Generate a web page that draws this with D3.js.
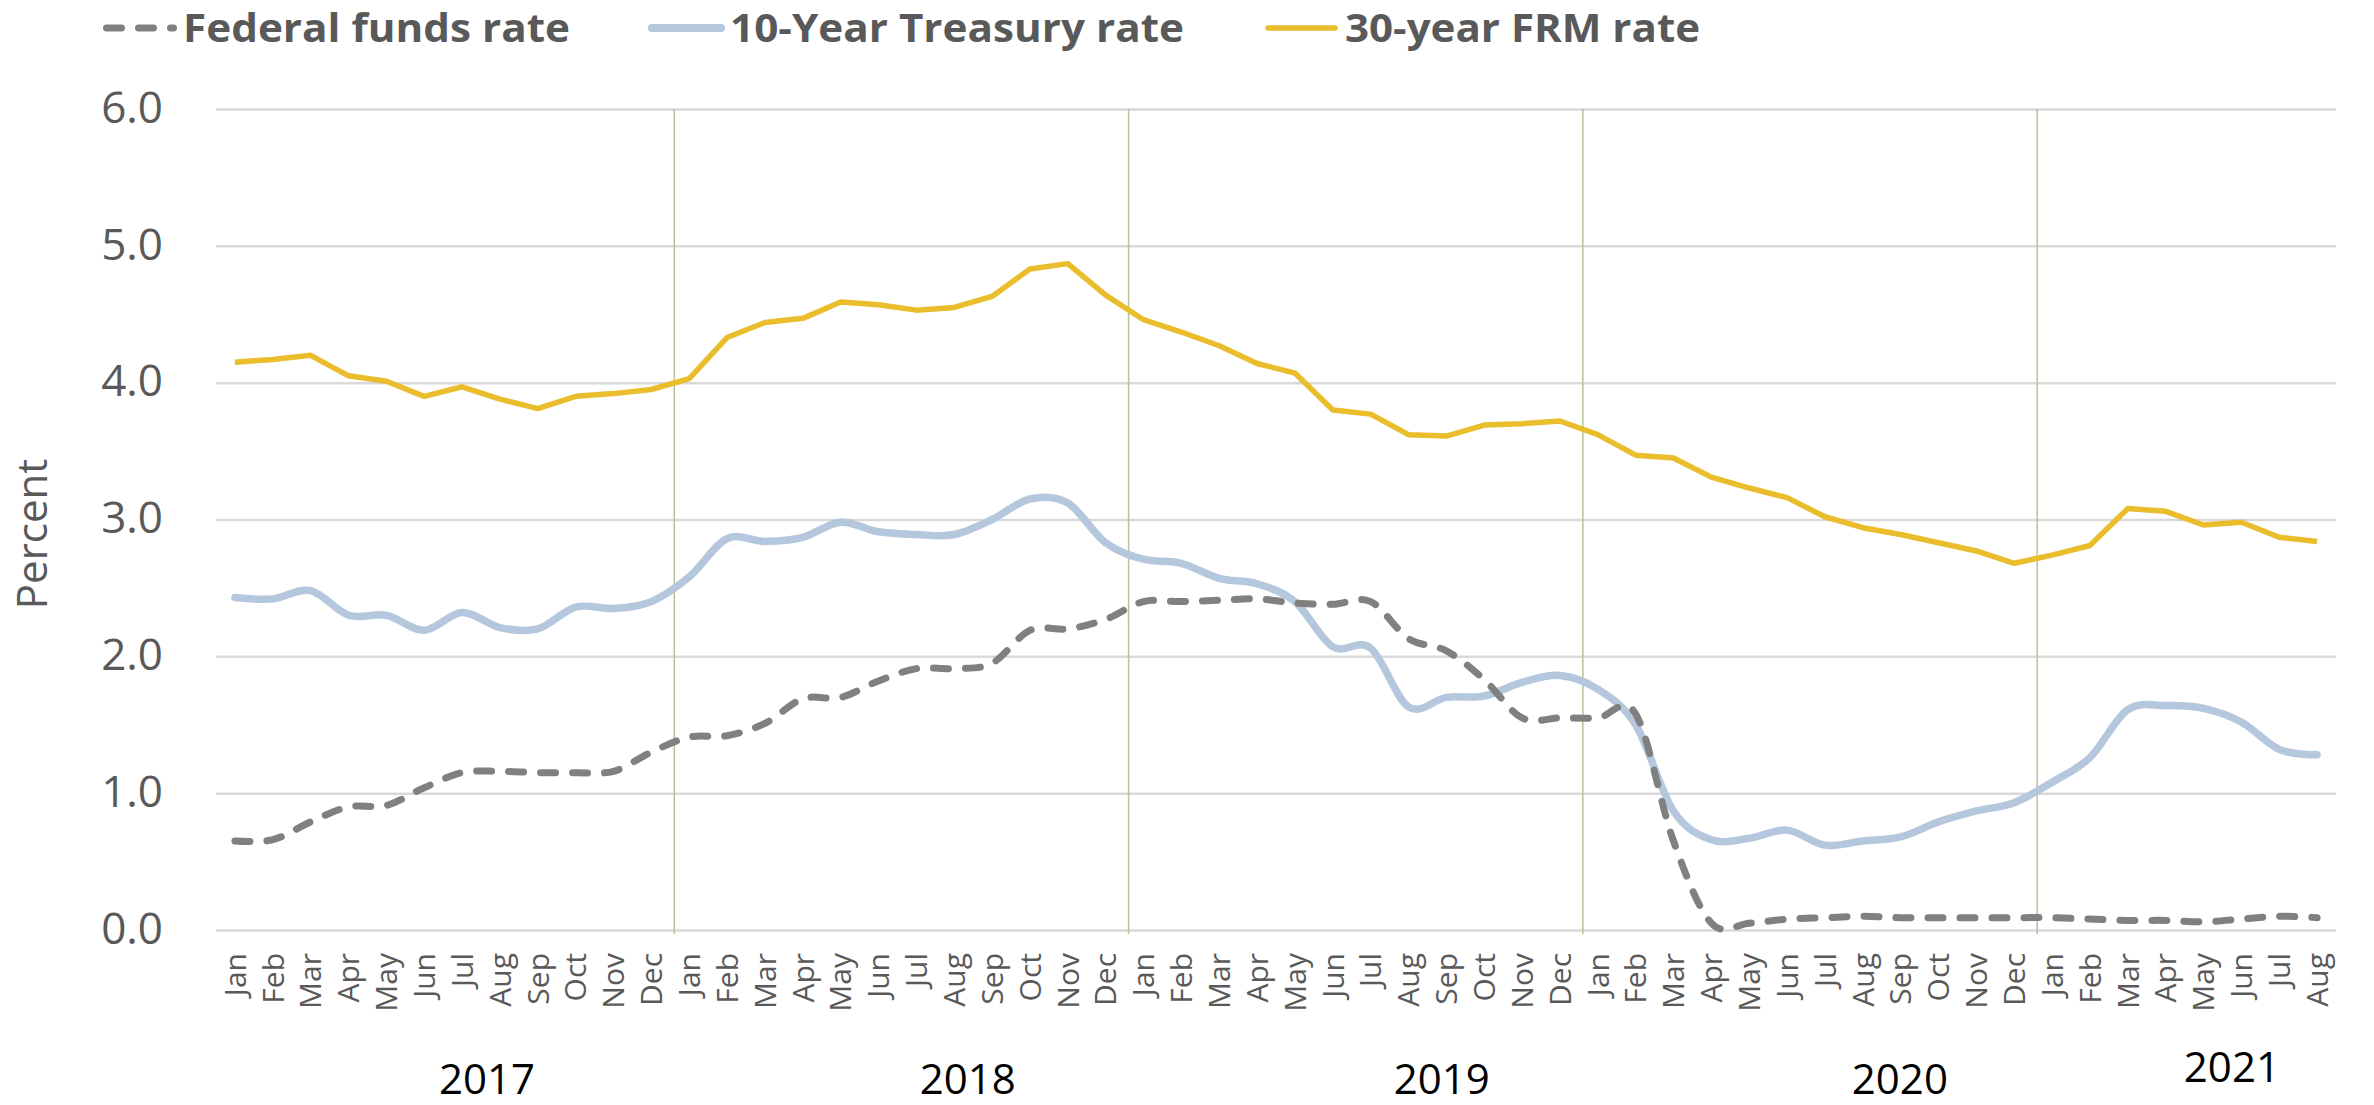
<!DOCTYPE html>
<html>
<head>
<meta charset="utf-8">
<script src="https://cdn.jsdelivr.net/npm/d3@7"></script>
<style>
  html, body { margin: 0; padding: 0; background: #fff; }
  svg { display: block; font-family: 'Open Sans', sans-serif; }
</style>
</head>
<body>
<div id="chart"></div>
<script>
// ---- data (monthly averages, Jan 2017 - Aug 2021) ----
const monthNames = ['Jan', 'Feb', 'Mar', 'Apr', 'May', 'Jun', 'Jul', 'Aug', 'Sep', 'Oct', 'Nov', 'Dec'];
const years = ['2017', '2018', '2019', '2020', '2021'];
const monthsPerYear = [12, 12, 12, 12, 8];

const fedFunds = [
  0.65, 0.66, 0.79, 0.90, 0.91, 1.04, 1.15, 1.16, 1.15, 1.15, 1.16, 1.30,
  1.41, 1.42, 1.51, 1.69, 1.70, 1.82, 1.91, 1.91, 1.95, 2.19, 2.20, 2.27,
  2.40, 2.40, 2.41, 2.42, 2.39, 2.38, 2.40, 2.13, 2.04, 1.83, 1.55, 1.55,
  1.55, 1.58, 0.65, 0.05, 0.05, 0.08, 0.09, 0.10, 0.09, 0.09, 0.09, 0.09,
  0.09, 0.08, 0.07, 0.07, 0.06, 0.08, 0.10, 0.09
];
const treasury10 = [
  2.43, 2.42, 2.48, 2.30, 2.30, 2.19, 2.32, 2.21, 2.20, 2.36, 2.35, 2.40,
  2.58, 2.86, 2.84, 2.87, 2.98, 2.91, 2.89, 2.89, 3.00, 3.15, 3.12, 2.83,
  2.71, 2.68, 2.57, 2.53, 2.40, 2.07, 2.06, 1.63, 1.70, 1.71, 1.81, 1.86,
  1.76, 1.50, 0.87, 0.66, 0.67, 0.73, 0.62, 0.65, 0.68, 0.79, 0.87, 0.93,
  1.08, 1.26, 1.61, 1.64, 1.62, 1.52, 1.32, 1.28
];
const frm30 = [
  4.15, 4.17, 4.20, 4.05, 4.01, 3.90, 3.97, 3.88, 3.81, 3.90, 3.92, 3.95,
  4.03, 4.33, 4.44, 4.47, 4.59, 4.57, 4.53, 4.55, 4.63, 4.83, 4.87, 4.64,
  4.46, 4.37, 4.27, 4.14, 4.07, 3.80, 3.77, 3.62, 3.61, 3.69, 3.70, 3.72,
  3.62, 3.47, 3.45, 3.31, 3.23, 3.16, 3.02, 2.94, 2.89, 2.83, 2.77, 2.68,
  2.74, 2.81, 3.08, 3.06, 2.96, 2.98, 2.87, 2.84
];
const yTicks = [0, 1, 2, 3, 4, 5, 6];
const seriesNames = ['Federal funds rate', '10-Year Treasury rate', '30-year FRM rate'];

// category list: one entry per month
const categories = [];
years.forEach((yr, yi) => {
  for (let m = 0; m < monthsPerYear[yi]; m++) categories.push({ key: yr + '-' + m, month: monthNames[m], year: yr });
});

// ---- layout ----
const width = 2374;
const height = 1105;
const plot = { left: 216, right: 2336, top: 109, bottom: 930 };
const colors = {
  fed: '#808080',
  tsy: '#b4c7dd',
  frm: '#e9bd2c',
  grid: '#d9d9d9',
  sep: '#b3c49a',
  text: '#595959'
};

const svg = d3.select('#chart')
  .append('svg')
  .attr('width', width)
  .attr('height', height);

const x = d3.scaleBand()
  .domain(categories.map(d => d.key))
  .range([plot.left, plot.right]);
const bw = x.bandwidth();
const cx = i => x(categories[i].key) + bw / 2;

const y = d3.scaleLinear()
  .domain([0, 6])
  .range([plot.bottom, plot.top]);

// horizontal gridlines + y tick labels
const yAxis = svg.append('g')
  .attr('transform', `translate(${plot.left},0)`)
  .call(d3.axisLeft(y)
    .tickValues(yTicks)
    .tickFormat(d3.format('.1f'))
    .tickSizeInner(-(plot.right - plot.left))
    .tickSizeOuter(0)
    .tickPadding(53));
yAxis.select('.domain').remove();
yAxis.selectAll('.tick line')
  .attr('stroke', colors.grid)
  .attr('stroke-width', 2.5);
yAxis.selectAll('.tick text')
  .attr('font-family', "'Open Sans', sans-serif")
  .attr('font-size', 44)
  .attr('fill', colors.text)
  .attr('dy', '0.3em');

// year separators
const boundaries = [];
let acc = 0;
monthsPerYear.slice(0, -1).forEach(n => { acc += n; boundaries.push(acc); });
svg.append('g')
  .selectAll('line')
  .data(boundaries)
  .enter().append('line')
  .attr('x1', d => x(categories[d].key) + 4)
  .attr('x2', d => x(categories[d].key) + 4)
  .attr('y1', plot.top)
  .attr('y2', plot.bottom + 4)
  .attr('stroke', colors.sep)
  .attr('stroke-width', 1.5);

// month labels (rotated)
svg.append('g')
  .selectAll('text')
  .data(categories)
  .enter().append('text')
  .attr('transform', (d, i) => `translate(${cx(i)},953) rotate(-90)`)
  .attr('text-anchor', 'end')
  .attr('dy', '0.36em')
  .attr('font-size', 30)
  .attr('fill', colors.text)
  .text(d => d.month);

// year labels: placed a little right of each year's middle, as in the source
const yearLabelShift = [1.16, 1.86, 2.38, 2.48, 1.25];
const yearLabelBaseline = [1094, 1094, 1094, 1094, 1082];
let start = 0;
years.forEach((yr, yi) => {
  const mid = start + monthsPerYear[yi] / 2 + yearLabelShift[yi];
  svg.append('text')
    .attr('x', plot.left + mid * bw)
    .attr('y', yearLabelBaseline[yi])
    .attr('text-anchor', 'middle')
    .attr('font-size', 42)
    .attr('fill', '#000')
    .text(yr);
  start += monthsPerYear[yi];
});

// y axis title
svg.append('text')
  .attr('transform', `translate(47,534) rotate(-90)`)
  .attr('text-anchor', 'middle')
  .attr('font-size', 42)
  .attr('fill', colors.text)
  .text('Percent');

// ---- series ----
const straight = d3.line()
  .x((d, i) => cx(i))
  .y(d => y(d));
const smooth = d3.line()
  .x((d, i) => cx(i))
  .y(d => y(d))
  .curve(d3.curveCardinal.tension(0)); // Excel-like smoothed line

svg.append('path')
  .datum(frm30)
  .attr('d', straight)
  .attr('fill', 'none')
  .attr('stroke', colors.frm)
  .attr('stroke-width', 5.5)
  .attr('stroke-linejoin', 'round');

svg.append('path')
  .datum(treasury10)
  .attr('d', smooth)
  .attr('fill', 'none')
  .attr('stroke', colors.tsy)
  .attr('stroke-width', 7.5)
  .attr('stroke-linecap', 'round');

svg.append('path')
  .datum(fedFunds)
  .attr('d', smooth)
  .attr('fill', 'none')
  .attr('stroke', colors.fed)
  .attr('stroke-width', 7)
  .attr('stroke-linecap', 'round')
  .attr('stroke-dasharray', '15,17');

// ---- legend ----
const legend = [
  { name: seriesNames[0], x1: 106.5, x2: 173.5, tx: 183, tw: 387, color: colors.fed, w: 7, dash: '15,17' },
  { name: seriesNames[1], x1: 652, x2: 721, tx: 730, tw: 454, color: colors.tsy, w: 8, dash: null },
  { name: seriesNames[2], x1: 1268, x2: 1335, tx: 1345, tw: 355, color: colors.frm, w: 5.5, dash: null }
];
const lg = svg.append('g').attr('class', 'legend');
lg.selectAll('line')
  .data(legend)
  .enter().append('line')
  .attr('x1', d => d.x1)
  .attr('x2', d => d.x2)
  .attr('y1', 28)
  .attr('y2', 28)
  .attr('stroke', d => d.color)
  .attr('stroke-width', d => d.w)
  .attr('stroke-linecap', 'round')
  .attr('stroke-dasharray', d => d.dash);
lg.selectAll('text')
  .data(legend)
  .enter().append('text')
  .attr('x', d => d.tx)
  .attr('y', 42)
  .attr('font-size', 39)
  .attr('font-weight', 'bold')
  .attr('fill', colors.text)
  .attr('textLength', d => d.tw)
  .attr('lengthAdjust', 'spacingAndGlyphs')
  .text(d => d.name);
</script>
</body>
</html>
